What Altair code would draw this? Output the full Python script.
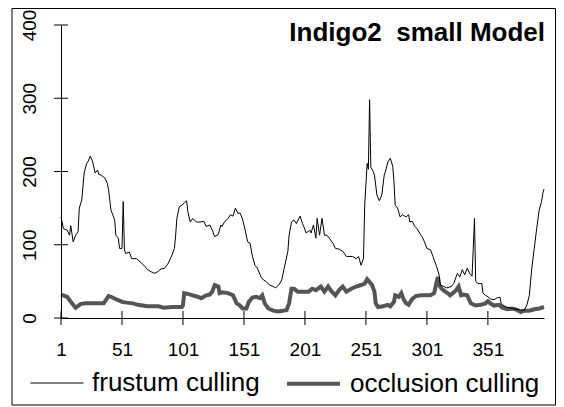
import altair as alt
import pandas as pd

series_names = ["frustum culling", "occlusion culling"]
x_ticks = [1, 51, 101, 151, 201, 251, 301, 351]
y_ticks = [0, 100, 200, 300, 400]
title_text = "Indigo2\u00a0 small Model"

frustum_idx = [1, 3, 6, 8, 9, 11, 13, 15, 16, 18, 20, 22, 23, 25, 27, 29, 31, 32, 34, 37,
               39, 40, 42, 43, 45, 46, 48, 49, 51, 52, 53, 54, 57, 59, 63, 65, 67, 70, 72, 75,
               78, 81, 83, 86, 89, 92, 94, 95, 96, 98, 100, 102, 104, 105, 107, 109, 112, 115, 118, 120,
               123, 125, 127, 130, 132, 133, 135, 138, 140, 142, 144, 146, 148, 150, 152, 154, 156, 158, 160, 162,
               165, 167, 169, 172, 175, 177, 180, 182, 184, 187, 188, 190, 192, 194, 196, 197, 199, 200, 202, 205,
               206, 208, 210, 211, 213, 215, 217, 219, 221, 224, 226, 229, 232, 235, 237, 240, 243, 245, 247, 249,
               250, 252, 253, 254, 255, 257, 258, 260, 262, 264, 266, 267, 269, 271, 273, 274, 275, 277, 279, 281,
               284, 286, 287, 289, 291, 293, 295, 297, 299, 301, 304, 306, 307, 309, 311, 312, 315, 317, 321, 323,
               326, 328, 330, 332, 334, 336, 338, 339, 340, 341, 343, 346, 347, 349, 351, 353, 356, 359, 361, 362,
               366, 371, 377, 381, 383, 385, 386, 387, 389, 391, 393, 395, 396, 397]
frustum_val = [138, 122, 120, 113, 126, 104, 113, 118, 150, 161, 198, 211, 213, 221, 213, 198, 202, 196, 195, 191,
               184, 175, 147, 143, 134, 113, 109, 95, 95, 159, 93, 88, 90, 81, 81, 78, 75, 70, 66, 63,
               61, 64, 67, 68, 75, 86, 95, 113, 136, 152, 154, 157, 160, 145, 131, 136, 131, 131, 132, 125,
               127, 120, 111, 114, 127, 125, 131, 136, 141, 139, 150, 143, 143, 134, 120, 104, 102, 84, 72, 68,
               56, 52, 50, 45, 43, 41, 46, 52, 68, 91, 113, 131, 134, 129, 136, 139, 129, 125, 116, 120,
               116, 127, 109, 136, 113, 136, 113, 113, 109, 102, 95, 94, 91, 84, 84, 84, 81, 84, 72, 81,
               154, 211, 203, 298, 206, 200, 195, 168, 160, 168, 195, 200, 213, 218, 207, 186, 154, 150, 138, 141,
               138, 141, 131, 132, 125, 122, 116, 111, 104, 95, 93, 84, 79, 70, 59, 45, 43, 41, 43, 47,
               61, 56, 66, 59, 68, 61, 57, 95, 136, 50, 47, 47, 34, 31, 29, 26, 25, 28, 28, 19,
               15, 13, 11, 11, 18, 31, 50, 68, 95, 122, 147, 159, 170, 176]

occl_idx = [1, 6, 10, 13, 17, 21, 25, 32, 36, 40, 42, 47, 51, 55, 60, 64, 72, 81, 85, 92,
            100, 101, 102, 105, 109, 113, 116, 120, 123, 125, 127, 130, 131, 133, 138, 142, 145, 147, 150, 153,
            155, 158, 161, 164, 166, 168, 171, 175, 179, 183, 186, 188, 190, 192, 195, 199, 202, 204, 207, 210,
            214, 217, 220, 222, 226, 229, 232, 235, 239, 243, 247, 250, 252, 254, 256, 258, 259, 261, 265, 269,
            271, 274, 275, 278, 280, 282, 284, 286, 289, 292, 296, 300, 304, 307, 309, 310, 311, 313, 316, 318,
            320, 323, 325, 327, 329, 331, 334, 337, 341, 345, 349, 351, 353, 356, 360, 363, 367, 371, 375, 378,
            381, 385, 389, 393, 397]
occl_val = [32, 29, 20, 14, 19, 20, 20, 20, 20, 30, 29, 25, 22, 21, 20, 18, 16, 16, 14, 15,
            15, 17, 34, 33, 31, 29, 27, 31, 32, 36, 45, 43, 34, 35, 34, 31, 20, 18, 13, 13,
            22, 28, 29, 27, 31, 20, 13, 10, 9, 10, 11, 20, 40, 40, 36, 36, 36, 36, 40, 38,
            43, 36, 43, 38, 31, 38, 43, 36, 40, 43, 45, 47, 53, 49, 45, 36, 20, 15, 16, 18,
            16, 22, 31, 29, 34, 25, 20, 18, 26, 30, 31, 31, 31, 34, 50, 56, 45, 40, 36, 34,
            31, 35, 38, 43, 31, 32, 31, 20, 17, 18, 20, 23, 20, 17, 18, 14, 12, 13, 11, 8,
            10, 10, 12, 13, 15]

df = pd.concat([
    pd.DataFrame({"idx": frustum_idx, "val": frustum_val, "series": series_names[0]}),
    pd.DataFrame({"idx": occl_idx, "val": occl_val, "series": series_names[1]}),
], ignore_index=True)

FONT = "Liberation Sans"
W, H = 483, 293

x_scale = alt.Scale(domain=[1, 397], nice=False, zero=False)
y_scale = alt.Scale(domain=[0, 400], nice=False, zero=True)

legend_spec = alt.Legend(
    title=None, orient="none", legendX=-31, legendY=330, direction="horizontal",
    symbolType="stroke", symbolSize=2809, labelFontSize=26, labelFont=FONT,
    labelColor="black", labelOffset=8, columnPadding=19, padding=0, labelLimit=0,
)

color_enc = alt.Color("series:N", scale=alt.Scale(domain=series_names, range=["black", "#555555"]),
                      legend=legend_spec)
width_enc = alt.StrokeWidth("series:N", scale=alt.Scale(domain=series_names, range=[1, 4]),
                            legend=legend_spec)

x_axis = alt.Axis(values=x_ticks, title=None, grid=False, ticks=False, tickSize=0,
                  labelPadding=22, labelFontSize=19, labelFont=FONT, labelColor="black",
                  labelBaseline="top", labelAlign="center", labelFlush=False, labelOverlap=False,
                  domain=True, domainColor="black", domainWidth=1, zindex=1)
y_axis = alt.Axis(values=y_ticks, title=None, grid=False, ticks=False, tickSize=0,
                  labelAngle=270, labelAlign="center", labelBaseline="alphabetic",
                  labelPadding=26, labelFontSize=19, labelFont=FONT, labelColor="black",
                  labelFlush=False, labelOverlap=False,
                  domain=True, domainColor="black", domainWidth=1, zindex=1)

base = alt.Chart(df)
occl_layer = base.transform_filter(alt.datum.series == series_names[1]).mark_line().encode(
    x=alt.X("idx:Q", scale=x_scale, axis=x_axis),
    y=alt.Y("val:Q", scale=y_scale, axis=y_axis),
    color=color_enc, strokeWidth=width_enc, order="idx:Q",
)
frus_layer = base.transform_filter(alt.datum.series == series_names[0]).mark_line().encode(
    x=alt.X("idx:Q", scale=x_scale, axis=x_axis),
    y=alt.Y("val:Q", scale=y_scale, axis=y_axis),
    color=color_enc, strokeWidth=width_enc, order="idx:Q",
)

xt = alt.Chart(pd.DataFrame({"t": x_ticks, "z": [0] * len(x_ticks)})).mark_tick(
    orient="vertical", size=14, thickness=1, color="black", opacity=1
).encode(x=alt.X("t:Q", scale=x_scale, axis=x_axis), y=alt.Y("z:Q", scale=y_scale, axis=y_axis))
yt = alt.Chart(pd.DataFrame({"t": y_ticks, "o": [1] * len(y_ticks)})).mark_tick(
    orient="horizontal", size=14, thickness=1, color="black", opacity=1
).encode(x=alt.X("o:Q", scale=x_scale, axis=x_axis), y=alt.Y("t:Q", scale=y_scale, axis=y_axis))

dummy = pd.DataFrame({"a": [0]})
border = alt.Chart(dummy).mark_rect(fill="transparent", stroke="black", strokeWidth=1, clip=False).encode(
    x=alt.value(-49), x2=alt.value(494.5), y=alt.value(-16.5), y2=alt.value(380)
)
title = alt.Chart(dummy).mark_text(
    text=title_text, align="right", baseline="alphabetic", fontSize=26,
    fontWeight="bold", font=FONT, color="black"
).encode(x=alt.value(484), y=alt.value(16))

chart = alt.layer(occl_layer, frus_layer, xt, yt, border, title).properties(
    width=W, height=H,
    autosize=alt.AutoSizeParams(type="none"),
    padding={"left": 53, "top": 17, "right": 12, "bottom": 89},
    background="white",
).configure_view(stroke=None)

chart.save("out.html", embed_options={"renderer": "svg", "actions": False})
